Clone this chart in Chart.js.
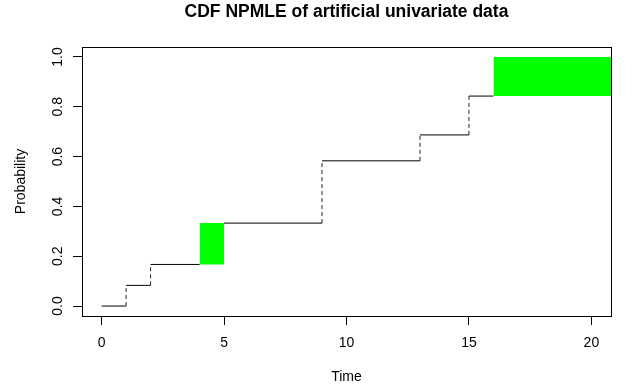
<!DOCTYPE html>
<html>
<head>
<meta charset="utf-8">
<script src="https://cdn.jsdelivr.net/npm/chart.js@4.4.1/dist/chart.umd.min.js"></script>
<style>
  html, body { margin: 0; padding: 0; background: #fff; }
  #wrap { width: 633px; height: 392px; }
</style>
</head>
<body>
<div id="wrap"><canvas id="cdf" width="633" height="392"></canvas></div>
<script>
// flat parts of the estimated CDF
const stepFrom = [0, 1, 2, 5, 9, 13, 15];
const stepTo   = [1, 2, 4, 9, 13, 15, 16];
const stepProb = [0, 0.083, 0.167, 0.333, 0.583, 0.687, 0.843];

// jumps (dashed verticals)
const jumpAt   = [1, 2, 9, 13, 15];
const jumpFrom = [0, 0.083, 0.333, 0.583, 0.687];
const jumpTo   = [0.083, 0.167, 0.583, 0.687, 0.843];

// regions where the NPMLE is not unique (green boxes)
const boxLeft  = [4, 16];
const boxRight = [5, 20.8];
const boxLow   = [0.167, 0.843];
const boxHigh  = [0.333, 1.0];

const xTicks = [0, 5, 10, 15, 20];
const yTicks = [0, 0.2, 0.4, 0.6, 0.8, 1.0];

Chart.defaults.font.family = "'Liberation Sans', Arial, sans-serif";
Chart.defaults.color = '#000';

const flatPoints = stepFrom.flatMap((a, i) => [
    { x: a, y: stepProb[i] },
    { x: stepTo[i], y: stepProb[i] },
    { x: stepTo[i], y: null }
]);
const jumpPoints = jumpAt.flatMap((t, i) => [
    { x: t, y: jumpFrom[i] },
    { x: t, y: jumpTo[i] },
    { x: t, y: null }
]);

const boxSets = [];
boxLeft.forEach((l, i) => {
    boxSets.push({
        data: [{ x: l, y: boxLow[i] }, { x: boxRight[i], y: boxLow[i] }],
        borderWidth: 0, pointRadius: 0, fill: false
    });
    boxSets.push({
        data: [{ x: l, y: boxHigh[i] }, { x: boxRight[i], y: boxHigh[i] }],
        borderWidth: 0, pointRadius: 0,
        fill: '-1', backgroundColor: '#00ff00'
    });
});

const plotBox = {
    id: 'plotBox',
    afterDraw(chart) {
        const { ctx, chartArea: a } = chart;
        ctx.save();
        ctx.strokeStyle = '#000';
        ctx.lineWidth = 1;
        ctx.strokeRect(Math.round(a.left) + 0.5, Math.round(a.top) + 0.5,
            Math.round(a.right - a.left), Math.round(a.bottom - a.top));
        ctx.restore();
    }
};

new Chart(document.getElementById('cdf'), {
    type: 'line',
    data: {
        datasets: [
            {
                data: flatPoints,
                borderColor: '#000', borderWidth: 1,
                pointRadius: 0, spanGaps: false, fill: false
            },
            {
                data: jumpPoints,
                borderColor: '#222', borderWidth: 1, borderDash: [4, 3],
                pointRadius: 0, spanGaps: false, fill: false
            },
            ...boxSets
        ]
    },
    options: {
        responsive: false,
        animation: false,
        devicePixelRatio: 1,
        layout: { padding: { left: 0, right: 22, top: 0, bottom: 0 } },
        plugins: {
            legend: { display: false },
            tooltip: { enabled: false },
            filler: { drawTime: 'beforeDatasetsDraw' }
        },
        scales: {
            // top axis only carries the main title, centred over the plot box
            top: {
                type: 'linear', position: 'top',
                min: -0.8, max: 20.8,
                afterFit: s => { s.height = 47; },
                ticks: { display: false },
                grid: { display: false },
                border: { display: false },
                title: {
                    display: true,
                    text: 'CDF NPMLE of artificial univariate data',
                    font: { size: 17.5, weight: 'bold' },
                    color: '#000',
                    padding: { top: 2, bottom: 0 }
                }
            },
            x: {
                type: 'linear', position: 'bottom',
                min: -0.8, max: 20.8,
                afterBuildTicks: s => { s.ticks = xTicks.map(v => ({ value: v })); },
                afterFit: s => { s.height = 76; },
                ticks: { font: { size: 14 }, padding: 10, color: '#000' },
                grid: { drawOnChartArea: false, drawTicks: true, tickLength: 9, color: '#000' },
                border: { display: false },
                title: {
                    display: true, text: 'Time',
                    font: { size: 14 }, color: '#000',
                    padding: { top: 0, bottom: 6.6 }
                }
            },
            y: {
                type: 'linear',
                min: -0.04, max: 1.04,
                afterBuildTicks: s => { s.ticks = yTicks.map(v => ({ value: v })); },
                afterFit: s => { s.width = 82; },
                ticks: {
                    font: { size: 14 }, color: '#000',
                    minRotation: 90, maxRotation: 90,
                    crossAlign: 'center', padding: 5,
                    callback: v => v.toFixed(1)
                },
                grid: { drawOnChartArea: false, drawTicks: true, tickLength: 9, color: '#000' },
                border: { display: false },
                title: {
                    display: true, text: 'Probability',
                    font: { size: 14 }, color: '#000',
                    padding: { top: 12.6, bottom: 0 }
                }
            }
        }
    },
    plugins: [plotBox]
});
</script>
</body>
</html>
